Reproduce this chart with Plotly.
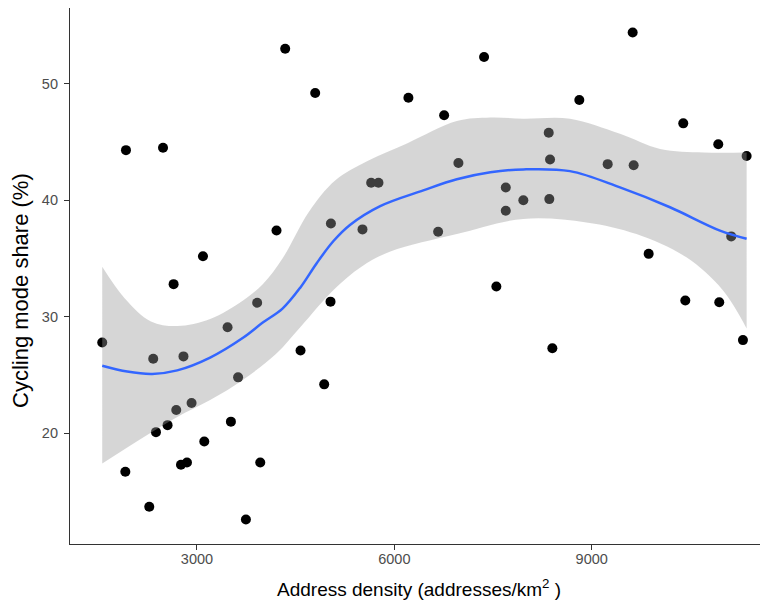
import plotly.graph_objects as go

# Observed data points
density = [1560, 1911, 1921, 2275, 2335, 2377, 2484, 2553, 2645, 2685, 2757, 2795, 2848, 2918,
           3091, 3111, 3465, 3516, 3625, 3744, 3915, 3962, 4209, 4341, 4574, 4797, 4934, 5030,
           5036, 5516, 5648, 5759, 6214, 6666, 6757, 6974, 7364, 7551, 7694, 7694, 7961, 8347,
           8356, 8367, 8402, 8812, 9243, 9623, 9638, 9866, 10392, 10423, 10924, 10939, 11121,
           11299, 11355]
share = [27.8, 16.7, 44.3, 13.7, 26.4, 20.1, 44.5, 20.7, 32.8, 22.0, 17.3, 26.6, 17.5, 22.6,
         35.2, 19.3, 29.1, 21.0, 24.8, 12.6, 31.2, 17.5, 37.4, 53.0, 27.1, 49.2, 24.2, 31.3,
         38.0, 37.5, 41.5, 41.5, 48.8, 37.3, 47.3, 43.2, 52.3, 32.6, 41.1, 39.1, 40.0, 45.8,
         40.1, 43.5, 27.3, 48.6, 43.1, 54.4, 43.0, 35.4, 46.6, 31.4, 44.8, 31.25, 36.9,
         28.0, 43.8]

# Smoothed fit
fit_x = [1560, 1940, 2320, 2700, 3200, 3700, 4000, 4300, 4570, 4820, 5075, 5330, 5785,
         6440, 6950, 7460, 7960, 8670, 9430, 10190, 10950, 11355]
fit_y = [25.8, 25.3, 25.1, 25.4, 26.5, 28.2, 29.5, 30.7, 32.5, 34.6, 36.5, 37.9, 39.5,
         40.85, 41.8, 42.4, 42.65, 42.5, 41.1, 39.4, 37.4, 36.7]

# Confidence band
up_x = [1560, 1900, 2300, 2700, 3200, 3700, 4000, 4300, 4700, 5100, 5600, 6200, 6950,
        7460, 7960, 8670, 9430, 10040, 10700, 11355]
up_y = [34.3, 31.6, 29.6, 29.2, 29.8, 31.4, 32.8, 35.0, 39.0, 41.7, 43.4, 44.9, 46.8,
        47.1, 47.0, 47.0, 45.7, 44.4, 44.1, 44.1]
lo_x = [1560, 2200, 2700, 3200, 3700, 4200, 4570, 5075, 5500, 5940, 6950, 7960, 8920,
        9680, 10440, 10990, 11355]
lo_y = [17.4, 19.7, 21.4, 22.85, 24.6, 26.8, 29.1, 32.3, 34.3, 35.6, 37.1, 38.4, 38.1,
        37.1, 35.1, 32.3, 29.0]

x_ticks = [3000, 6000, 9000]
y_ticks = [20, 30, 40, 50]

fig = go.Figure()
fig.add_trace(go.Scatter(x=density, y=share, mode="markers",
                         marker=dict(color="black", size=10, line=dict(width=0)),
                         showlegend=False, hoverinfo="skip"))
fig.add_trace(go.Scatter(x=lo_x, y=lo_y, mode="lines",
                         line=dict(width=0, shape="spline", color="rgba(0,0,0,0)"),
                         showlegend=False, hoverinfo="skip"))
fig.add_trace(go.Scatter(x=up_x, y=up_y, mode="lines", fill="tonexty",
                         fillcolor="rgba(153,153,153,0.4)",
                         line=dict(width=0, shape="spline", color="rgba(0,0,0,0)"),
                         showlegend=False, hoverinfo="skip"))
fig.add_trace(go.Scatter(x=fit_x, y=fit_y, mode="lines",
                         line=dict(color="#3366FF", width=2.5, shape="spline"),
                         showlegend=False))

axis_common = dict(showgrid=False, zeroline=False, showline=True, linecolor="#333333",
                   linewidth=1.2, ticks="outside", ticklen=5, tickcolor="#333333",
                   tickwidth=1, automargin=False,
                   tickfont=dict(family="Liberation Sans", size=14.5, color="#4d4d4d"))

# The page adds an 8px body margin, so the figure is sized to fit inside the window.
fig.update_layout(
    width=760, height=593,
    margin=dict(l=62, r=0, t=0, b=57),
    paper_bgcolor="white", plot_bgcolor="white",
    font=dict(family="Liberation Sans"),
    xaxis=dict(range=[1070, 11680], tickvals=x_ticks, ticktext=[str(v) for v in x_ticks],
               ticklabelstandoff=-4, **axis_common),
    yaxis=dict(range=[10.5, 56.5], tickvals=y_ticks, ticktext=[str(v) for v in y_ticks],
               ticklabelstandoff=3, **axis_common),
    annotations=[
        dict(text="Address density (addresses/km<sup>2</sup> )", xref="paper", yref="paper",
             x=0.5, y=0, xanchor="center", yanchor="middle", yshift=-44, showarrow=False,
             font=dict(family="Liberation Sans", size=19, color="black")),
        dict(text="Cycling mode share (%)", xref="paper", yref="paper",
             x=0, y=0.472, xanchor="center", yanchor="middle", xshift=-50, textangle=-90,
             showarrow=False, font=dict(family="Liberation Sans", size=22, color="black")),
    ],
)

fig.write_html("out.html")
